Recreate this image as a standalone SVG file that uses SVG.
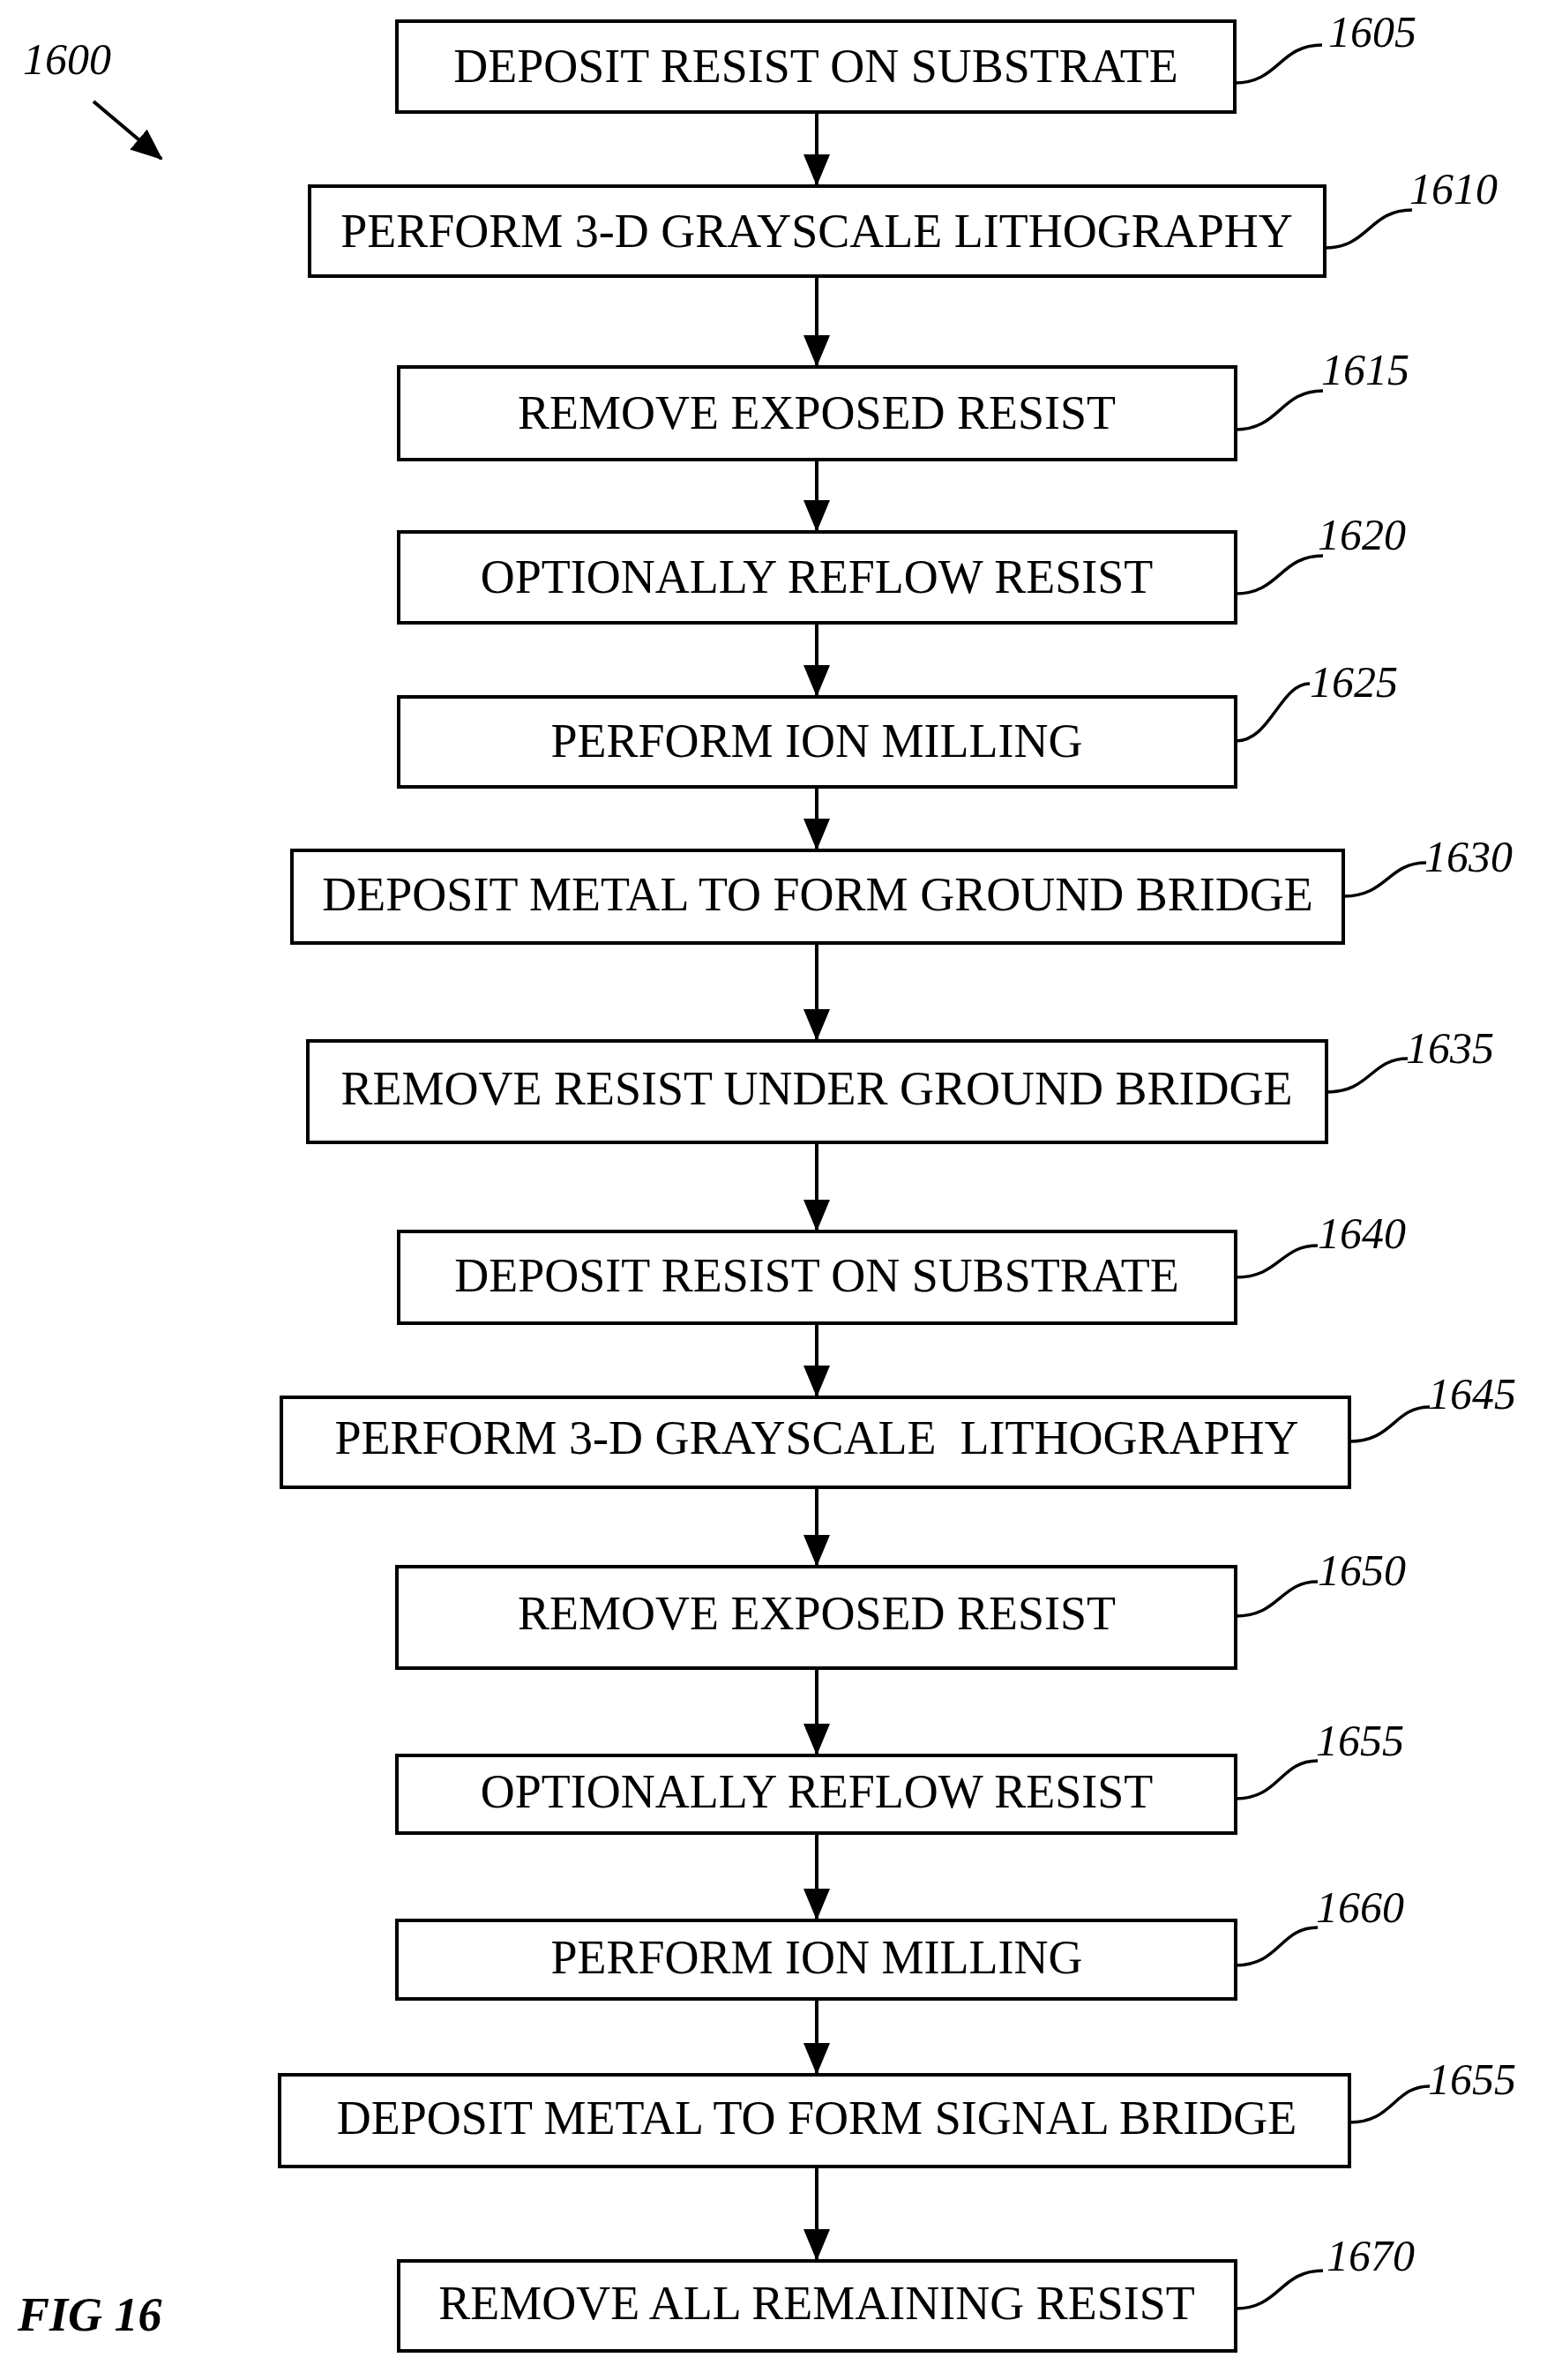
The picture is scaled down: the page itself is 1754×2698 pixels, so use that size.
<svg xmlns="http://www.w3.org/2000/svg" width="1754" height="2698" viewBox="0 0 1754 2698">
<style>
.b{fill:#fff;stroke:#000;stroke-width:4}
.t{font-family:"Liberation Serif",serif;font-size:54px;text-anchor:middle}
.l{font-family:"Liberation Serif",serif;font-size:50px;font-style:italic}
.c{fill:none;stroke:#000;stroke-width:3.5}
.a{stroke:#000;stroke-width:4;marker-end:url(#ah)}
</style>
<defs><marker id="ah" markerWidth="36" markerHeight="30" refX="34" refY="15" orient="auto" markerUnits="userSpaceOnUse" viewBox="0 0 36 30"><path d="M0,0 L36,15 L0,30z"/></marker></defs>
<rect width="1754" height="2698" fill="#fff"/>
<g id="n1605"><rect class="b" x="450" y="24" width="950" height="103"/><text class="t" x="925" y="93">DEPOSIT RESIST ON SUBSTRATE</text><path class="c" d="M1400,94 C1450,94 1450,51 1499,51"/><text class="l" x="1506" y="53">1605</text></g>
<g id="n1610"><rect class="b" x="351" y="211" width="1151" height="102"/><text class="t" x="926" y="280">PERFORM 3-D GRAYSCALE LITHOGRAPHY</text><path class="c" d="M1502,281 C1552,281 1552,238 1601,238"/><text class="l" x="1598" y="231">1610</text></g>
<g id="n1615"><rect class="b" x="452" y="416" width="949" height="105"/><text class="t" x="926" y="486">REMOVE EXPOSED RESIST</text><path class="c" d="M1401,487 C1451,487 1451,443 1500,443"/><text class="l" x="1498" y="436">1615</text></g>
<g id="n1620"><rect class="b" x="452" y="603" width="949" height="103"/><text class="t" x="926" y="672">OPTIONALLY REFLOW RESIST</text><path class="c" d="M1401,673 C1451,673 1451,630 1500,630"/><text class="l" x="1494" y="623">1620</text></g>
<g id="n1625"><rect class="b" x="452" y="790" width="949" height="102"/><text class="t" x="926" y="858">PERFORM ION MILLING</text><path class="c" d="M1401,840 C1441,840 1451,775 1485,775"/><text class="l" x="1485" y="790">1625</text></g>
<g id="n1630"><rect class="b" x="331" y="964" width="1192" height="105"/><text class="t" x="927" y="1032">DEPOSIT METAL TO FORM GROUND BRIDGE</text><path class="c" d="M1523,1016 C1573,1016 1573,978 1617,978"/><text class="l" x="1615" y="988">1630</text></g>
<g id="n1635"><rect class="b" x="349" y="1180" width="1155" height="115"/><text class="t" x="926" y="1252">REMOVE RESIST UNDER GROUND BRIDGE</text><path class="c" d="M1504,1238 C1554,1238 1554,1200 1596,1200"/><text class="l" x="1594" y="1205">1635</text></g>
<g id="n1640"><rect class="b" x="452" y="1396" width="949" height="104"/><text class="t" x="926" y="1464">DEPOSIT RESIST ON SUBSTRATE</text><path class="c" d="M1401,1448 C1451,1448 1451,1412 1494,1412"/><text class="l" x="1494" y="1415">1640</text></g>
<g id="n1645"><rect class="b" x="319" y="1584" width="1211" height="102"/><text class="t" x="926" y="1648" xml:space="preserve">PERFORM 3-D GRAYSCALE  LITHOGRAPHY</text><path class="c" d="M1530,1634 C1580,1634 1580,1595 1621,1595"/><text class="l" x="1619" y="1597">1645</text></g>
<g id="n1650"><rect class="b" x="450" y="1776" width="951" height="115"/><text class="t" x="926" y="1847">REMOVE EXPOSED RESIST</text><path class="c" d="M1401,1832 C1451,1832 1451,1793 1494,1793"/><text class="l" x="1494" y="1797">1650</text></g>
<g id="n1655"><rect class="b" x="450" y="1990" width="951" height="88"/><text class="t" x="926" y="2049">OPTIONALLY REFLOW RESIST</text><path class="c" d="M1401,2039 C1451,2039 1451,1996 1494,1996"/><text class="l" x="1492" y="1990">1655</text></g>
<g id="n1660"><rect class="b" x="450" y="2177" width="951" height="89"/><text class="t" x="926" y="2237">PERFORM ION MILLING</text><path class="c" d="M1401,2228 C1451,2228 1451,2185 1494,2185"/><text class="l" x="1492" y="2179">1660</text></g>
<g id="n1655b"><rect class="b" x="317" y="2352" width="1213" height="104"/><text class="t" x="926" y="2419">DEPOSIT METAL TO FORM SIGNAL BRIDGE</text><path class="c" d="M1530,2406 C1580,2406 1580,2365 1621,2365"/><text class="l" x="1619" y="2374">1655</text></g>
<g id="n1670"><rect class="b" x="452" y="2563" width="949" height="102"/><text class="t" x="926" y="2629">REMOVE ALL REMAINING RESIST</text><path class="c" d="M1401,2617 C1451,2617 1451,2574 1500,2574"/><text class="l" x="1504" y="2574">1670</text></g>
<g id="connectors">
<line class="a" x1="926" y1="127" x2="926" y2="209"/>
<line class="a" x1="926" y1="313" x2="926" y2="414"/>
<line class="a" x1="926" y1="521" x2="926" y2="601"/>
<line class="a" x1="926" y1="706" x2="926" y2="788"/>
<line class="a" x1="926" y1="892" x2="926" y2="962"/>
<line class="a" x1="926" y1="1069" x2="926" y2="1178"/>
<line class="a" x1="926" y1="1295" x2="926" y2="1394"/>
<line class="a" x1="926" y1="1500" x2="926" y2="1582"/>
<line class="a" x1="926" y1="1686" x2="926" y2="1774"/>
<line class="a" x1="926" y1="1891" x2="926" y2="1988"/>
<line class="a" x1="926" y1="2078" x2="926" y2="2175"/>
<line class="a" x1="926" y1="2266" x2="926" y2="2350"/>
<line class="a" x1="926" y1="2456" x2="926" y2="2561"/>
</g>
<text class="l" x="26" y="84">1600</text>
<line class="a" x1="106" y1="115" x2="183" y2="180"/>
<text x="20" y="2642" style="font-family:'Liberation Serif',serif;font-size:54px;font-style:italic;font-weight:bold">FIG 16</text>
</svg>
